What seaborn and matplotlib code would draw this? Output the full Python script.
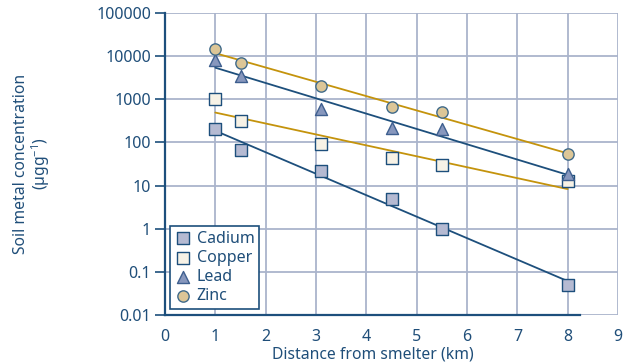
import numpy as np
import pandas as pd
import matplotlib
matplotlib.use("Agg")
import matplotlib.pyplot as plt
import seaborn as sns

# Data
distance = [1.0, 1.5, 3.1, 4.5, 5.5, 8.0]
cadmium = [200, 66, 22, 5, 1.0, 0.05]
copper = [1000, 320, 90, 44, 30, 13]
lead = [8000, 3500, 600, 220, 200, 19]
zinc = [15000, 7000, 2000, 650, 500, 55]
metals = ["Cadium", "Copper", "Lead", "Zinc"]
x_ticks = [0, 1, 2, 3, 4, 5, 6, 7, 8, 9]
y_ticks = [0.01, 0.1, 1, 10, 100, 1000, 10000, 100000]
y_tick_labels = ["0.01", "0.1", "1", "10", "100", "1000", "10000", "100000"]

series = {"Cadium": cadmium, "Copper": copper, "Lead": lead, "Zinc": zinc}
df = pd.DataFrame([
    {"distance": d, "value": v, "metal": m}
    for m in metals for d, v in zip(distance, series[m])
])

NAVY = "#1d4f7c"
GOLD = "#c4930c"
TEXT = "#1f4e79"
GRID = "#aab4cc"

fills = {"Cadium": "#b5bad2", "Copper": "#f7f2e6", "Lead": "#8797bd", "Zinc": "#dcc697"}
markers = {"Cadium": "s", "Copper": "s", "Lead": "^", "Zinc": "o"}
sizes = {"Cadium": 72, "Copper": 72, "Lead": 75, "Zinc": 66}
line_colors = {"Cadium": NAVY, "Copper": GOLD, "Lead": NAVY, "Zinc": GOLD}
edge_colors = {"Cadium": NAVY, "Copper": NAVY, "Lead": "#3e5f8f", "Zinc": "#3f6a8a"}

sns.set_theme(style="white")
plt.rcParams["font.family"] = ["Noto Sans", "DejaVu Sans"]
plt.rcParams["mathtext.fontset"] = "custom"
plt.rcParams["mathtext.rm"] = "Noto Sans"

fig = plt.figure(figsize=(6.29, 3.63), dpi=100)
ax = fig.add_axes([165 / 629, 1 - 315 / 363, (618 - 165) / 629, (315 - 13) / 363])
ax.set_yscale("log")

# fit lines (log-linear regression)
for m in metals:
    xs = np.array(distance)
    ys = np.log10(np.array(series[m]))
    b1, b0 = np.polyfit(xs, ys, 1)
    xx = np.array([min(distance), max(distance)])
    ax.plot(xx, 10 ** (b0 + b1 * xx), color=line_colors[m], lw=1.3, zorder=3)

for m in metals:
    sub = df[df.metal == m]
    sns.scatterplot(data=sub, x="distance", y="value", ax=ax, marker=markers[m],
                    color=fills[m], edgecolor=edge_colors[m], linewidth=1.0,
                    s=sizes[m], label=m, zorder=4)

ax.set_xlim(0, 9)
ax.set_ylim(0.01, 100000)
ax.set_xticks(x_ticks)
ax.set_xticklabels([str(t) for t in x_ticks])
ax.set_yticks(y_ticks)
ax.set_yticklabels(y_tick_labels)
ax.yaxis.set_minor_locator(matplotlib.ticker.NullLocator())

ax.grid(True, color=GRID, lw=1.3)
ax.set_axisbelow(True)
for s in ["top", "right"]:
    ax.spines[s].set_visible(False)
ax.spines["left"].set_color(NAVY)
ax.spines["left"].set_linewidth(1.6)
ax.spines["bottom"].set_color(NAVY)
ax.spines["bottom"].set_linewidth(1.6)
ax.spines["bottom"].set_bounds(0, 8.25)

ax.tick_params(axis="y", which="major", left=True, length=7, width=1.2, color=NAVY,
               labelcolor=TEXT, labelsize=11.5, pad=3)
ax.tick_params(axis="x", which="major", bottom=False, labelcolor=TEXT, labelsize=11.5, pad=4)

ax.set_xlabel("Distance from smelter (km)", color=TEXT, fontsize=11.3, labelpad=0)
ax.xaxis.set_label_coords(0.5 * 8.25 / 9, -0.105)
ax.set_ylabel("Soil metal concentration\n(µgg$^{-1}$)", color=TEXT, fontsize=11.3)
ax.yaxis.label.set_linespacing(1.0)
ax.yaxis.set_label_coords(-(165 - 52) / 453, 0.5)

leg = ax.legend(loc="lower left", bbox_to_anchor=(0.012, 0.02), frameon=True, fancybox=False,
                fontsize=11.5, handletextpad=0.35, borderpad=0.3, labelspacing=0.2,
                handlelength=1.0, borderaxespad=0)
leg.get_frame().set_edgecolor(NAVY)
leg.get_frame().set_linewidth(1.2)
leg.get_frame().set_alpha(1)
for t in leg.get_texts():
    t.set_color(TEXT)

fig.savefig("out.png", dpi=100)
